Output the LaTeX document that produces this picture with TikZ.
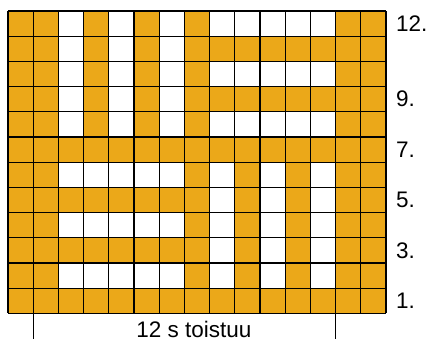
\documentclass[tikz,border=0pt]{standalone}
\usepackage{fontspec}
\setmainfont{Liberation Sans}
\definecolor{gold}{RGB}{235,168,25}
\tikzset{
  gridline/.style={draw=black, line width=1.3pt},
  tickline/.style={draw=black, line width=0.9pt},
  lab/.style={anchor=west, inner sep=0pt, font=\fontsize{22.5}{26}\selectfont},
  caption/.style={anchor=base, inner sep=0pt, font=\fontsize{22.5}{26}\selectfont}
}
\begin{document}
\begin{tikzpicture}[x=1pt,y=-1pt]
\useasboundingbox (0,0) rectangle (432,341);
\def\cs{25.2}
% background
\fill[gold] (8,11) rectangle (386,313.4);
% top-left vertical stripes (rows 12-8)
\foreach \c in {3,5,7}
  \fill[white] ({8+(\c-1)*\cs},11) rectangle ++(\cs,{5*\cs});
% top-right horizontal stripes (rows 12,10,8)
\foreach \r in {0,2,4}
  \fill[white] ({8+8*\cs},{11+\r*\cs}) rectangle ++({5*\cs},\cs);
% bottom-left horizontal stripes (rows 6,4,2)
\foreach \r in {6,8,10}
  \fill[white] ({8+2*\cs},{11+\r*\cs}) rectangle ++({5*\cs},\cs);
% bottom-right vertical stripes (rows 6-2)
\foreach \c in {9,11,13}
  \fill[white] ({8+(\c-1)*\cs},{11+6*\cs}) rectangle ++(\cs,{5*\cs});
% grid
\foreach \i in {0,...,15}
  \draw[gridline] ({8+\i*\cs},11) -- ({8+\i*\cs},313.4);
\foreach \j in {0,...,12}
  \draw[gridline] (8,{11+\j*\cs}) -- (386,{11+\j*\cs});
% row labels
\node[lab] (l12) at (396,23.6) {12.};
\node[lab] (l9) at (396,99.2) {9.};
\node[lab] (l7) at (396,149.6) {7.};
\node[lab] (l5) at (396,200) {5.};
\node[lab] (l3) at (396,250.4) {3.};
\node[lab] (l1) at (396,300.8) {1.};
% repeat marks
\coordinate (ta) at (33.2,313.4);
\coordinate (tb) at (33.2,339);
\coordinate (tc) at (335.6,313.4);
\coordinate (td) at (335.6,339);
\draw[tickline] (ta) -- (tb);
\draw[tickline] (tc) -- (td);
\node[caption] (cap) at (194,337.5) {12 s toistuu};
\end{tikzpicture}
\end{document}
